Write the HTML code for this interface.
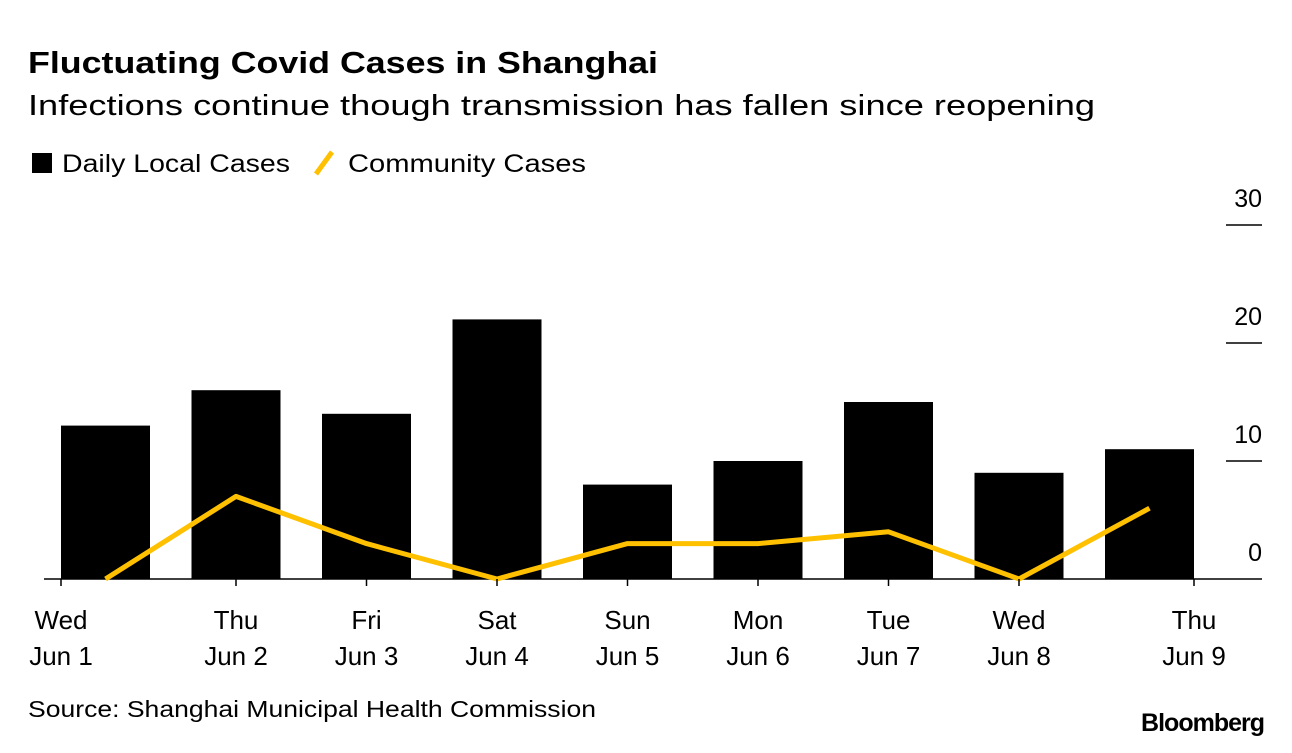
<!DOCTYPE html>
<html><head><meta charset="utf-8"><style>
body{margin:0;background:#fff;font-family:"Liberation Sans",sans-serif;}
svg text{font-family:"Liberation Sans",sans-serif;}
</style></head><body>
<svg width="1292" height="748" viewBox="0 0 1292 748">
<text x="28" y="73" font-size="31" font-weight="bold" fill="#000" textLength="630" lengthAdjust="spacingAndGlyphs">Fluctuating Covid Cases in Shanghai</text>
<text x="28" y="115" font-size="29" fill="#000" textLength="1067" lengthAdjust="spacingAndGlyphs">Infections continue though transmission has fallen since reopening</text>
<g>
<rect x="32" y="153" width="20" height="20" fill="#000"/>
<text x="62" y="172" font-size="25" textLength="228" lengthAdjust="spacingAndGlyphs">Daily Local Cases</text>
<line x1="316" y1="174" x2="332" y2="152" stroke="#FFC000" stroke-width="5"/>
<text x="348" y="172" font-size="25" textLength="238" lengthAdjust="spacingAndGlyphs">Community Cases</text>
</g>
<g id="plot"></g>
<text x="28" y="717" font-size="23" textLength="568" lengthAdjust="spacingAndGlyphs">Source: Shanghai Municipal Health Commission</text>
<text x="1264" y="731" font-size="25" font-weight="bold" text-anchor="end" letter-spacing="-1">Bloomberg</text>
</svg>
<script>
const days=["Wed","Thu","Fri","Sat","Sun","Mon","Tue","Wed","Thu"];
const dates=["Jun 1","Jun 2","Jun 3","Jun 4","Jun 5","Jun 6","Jun 7","Jun 8","Jun 9"];
const daily=[13,16,14,22,8,10,15,9,11];
const community=[0,7,3,0,3,3,4,0,6];
const yTicks=[0,10,20,30];
const NS="http://www.w3.org/2000/svg";
const g=document.getElementById('plot');
const y0=579,pu=11.8;
const y=v=>y0-v*pu;
const step=130.5,bw=89,left0=61;
const xc=i=>left0+bw/2+i*step;
function mk(t,a){const e=document.createElementNS(NS,t);for(const k in a)e.setAttribute(k,a[k]);g.appendChild(e);return e;}
yTicks.forEach(v=>{
  if(v>0){const l=mk('line',{x1:1226,x2:1262,y1:y(v),y2:y(v),stroke:'#000','stroke-width':1.5});
  
  }
  const t=mk('text',{x:1262,y:y(v)-18,'font-size':25,'text-anchor':'end'});t.textContent=v;
  
  
});
daily.forEach((v,i)=>{
  const r=mk('rect',{x:left0+i*step,y:y(v),width:bw,height:v*pu,fill:'#000'});
  
  
});
const ax=mk('line',{x1:44,x2:1262,y1:y0,y2:y0,stroke:'#000','stroke-width':1.5});


const pl=mk('polyline',{points:community.map((v,i)=>xc(i)+','+y(v)).join(' '),fill:'none',stroke:'#FFC000','stroke-width':5,'stroke-linejoin':'round'});


days.forEach((d,i)=>{
  let x=xc(i);if(i===0)x=left0;if(i===days.length-1)x=left0+i*step+bw;
  const tk=mk('line',{x1:x,x2:x,y1:y0,y2:y0+7,stroke:'#000','stroke-width':1.5});
  
  
  const t1=mk('text',{x:x,y:629,'font-size':26,'text-anchor':'middle'});t1.textContent=d;
  
  
  const t2=mk('text',{x:x,y:665,'font-size':26,'text-anchor':'middle'});t2.textContent=dates[i];
  
  
});
</script>
</body></html>
